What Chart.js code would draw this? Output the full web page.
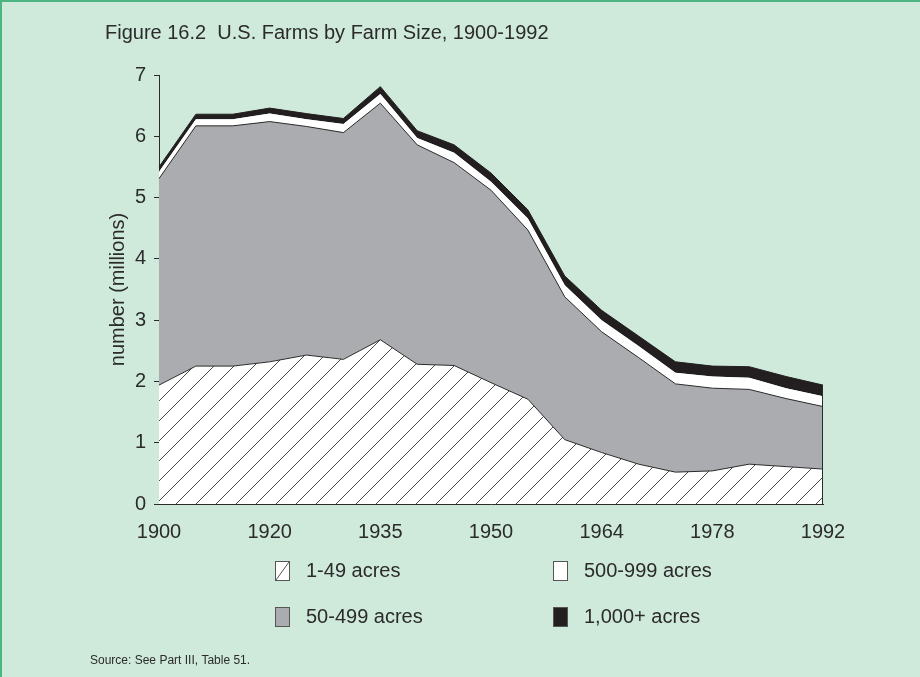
<!DOCTYPE html>
<html>
<head>
<meta charset="utf-8">
<script src="https://cdn.jsdelivr.net/npm/chart.js@4.4.1/dist/chart.umd.min.js"></script>
<style>
  body { margin: 0; background: #cfeadb; }
  #wrap { position: relative; width: 920px; height: 677px; overflow: hidden; }
  #frame { position: absolute; left: 0; top: 0; width: 918px; height: 675px;
           border-top: 2px solid #4cb582; border-left: 2px solid #4cb582; }
  canvas { position: absolute; left: 0; top: 0; }
</style>
</head>
<body>
<div id="wrap">
  <div id="frame"></div>
  <canvas id="farmChart" width="920" height="677"></canvas>
</div>
<script>
// census years (one extra point between 1910 and 1920, labels every 3rd)
const years = ['1900', '1910', '1915', '1920', '1925', '1930', '1935', '1940', '1945', '1950',
               '1954', '1959', '1964', '1969', '1974', '1978', '1982', '1987', '1992'];
// millions of farms, by size
const acres1to49 = [1.94, 2.25, 2.25, 2.32, 2.43, 2.36, 2.68, 2.28, 2.26, 1.98,
                    1.71, 1.05, 0.84, 0.65, 0.52, 0.54, 0.65, 0.61, 0.57];
const acres50to499 = [3.37, 3.92, 3.92, 3.92, 3.73, 3.70, 3.86, 3.58, 3.31, 3.14,
                      2.76, 2.33, 1.97, 1.74, 1.44, 1.35, 1.22, 1.11, 1.02];
const acres500to999 = [0.11, 0.11, 0.11, 0.13, 0.12, 0.14, 0.15, 0.11, 0.16, 0.14,
                       0.19, 0.19, 0.19, 0.19, 0.18, 0.19, 0.19, 0.17, 0.17];
const acres1000plus = [0.08, 0.08, 0.08, 0.09, 0.09, 0.09, 0.12, 0.12, 0.13, 0.14,
                       0.14, 0.15, 0.16, 0.16, 0.18, 0.17, 0.18, 0.19, 0.18];
const yTicks = [0, 1, 2, 3, 4, 5, 6, 7];

const FONT = 'Arial, "Liberation Sans", Helvetica, sans-serif';
const INK = '#2b2b2b';

function makeHatch() {
    const c = document.createElement('canvas');
    c.width = 20; c.height = 20;
    const g = c.getContext('2d');
    g.fillStyle = '#ffffff';
    g.fillRect(0, 0, 20, 20);
    g.strokeStyle = '#4a4a4a';
    g.lineWidth = 1;
    g.beginPath();
    g.moveTo(-2, 22); g.lineTo(22, -2);
    g.stroke();
    return g.createPattern(c, 'repeat');
}

const ctx = document.getElementById('farmChart').getContext('2d');
const hatch = makeHatch();

// legend, title, source note and the right edge of the stacked area
const decorations = {
    id: 'decorations',
    afterDatasetsDraw(chart) {
        const c = chart.ctx;
        const x = chart.scales.x, y = chart.scales.y;
        const last = years.length - 1;
        let total = 0;
        chart.data.datasets.forEach(ds => { total += ds.data[last]; });
        c.save();
        c.strokeStyle = INK;
        c.lineWidth = 1;
        c.beginPath();
        c.moveTo(Math.round(x.getPixelForValue(last)) - 0.5, y.getPixelForValue(0));
        c.lineTo(Math.round(x.getPixelForValue(last)) - 0.5, y.getPixelForValue(total));
        c.stroke();
        c.restore();
    },
    afterDraw(chart) {
        const c = chart.ctx;
        c.save();
        c.fillStyle = INK;
        c.textBaseline = 'middle';
        c.font = '20px ' + FONT;
        c.fillText('Figure 16.2  U.S. Farms by Farm Size, 1900-1992', 105, 33);

        const spots = [[275, 571], [275, 617], [553, 571], [553, 617]];
        chart.data.datasets.forEach((ds, i) => {
            const [bx, by] = spots[i];
            const w = 15, h = 20;
            c.fillStyle = ds.legendFill;
            c.fillRect(bx, by - h / 2, w, h);
            if (ds.legendHatch) {
                c.strokeStyle = '#555555';
                c.beginPath();
                c.moveTo(bx + 1, by + h / 2 - 1);
                c.lineTo(bx + w - 1, by - h / 2 + 1);
                c.stroke();
            }
            c.strokeStyle = '#555555';
            c.lineWidth = 1;
            c.strokeRect(bx + 0.5, by - h / 2 + 0.5, w - 1, h - 1);
            c.fillStyle = INK;
            c.font = '20px ' + FONT;
            c.fillText(ds.label, bx + 31, by);
        });

        c.font = '12px ' + FONT;
        c.fillText('Source: See Part III, Table 51.', 90, 661);
        c.restore();
    }
};

new Chart(ctx, {
    type: 'line',
    data: {
        labels: years,
        datasets: [
            {
                label: '1-49 acres',
                data: acres1to49,
                fill: 'origin',
                backgroundColor: hatch,
                borderColor: INK,
                borderWidth: 1,
                legendFill: '#ffffff',
                legendHatch: true
            },
            {
                label: '50-499 acres',
                data: acres50to499,
                fill: '-1',
                backgroundColor: '#abacb0',
                borderColor: INK,
                borderWidth: 1,
                legendFill: '#abacb0'
            },
            {
                label: '500-999 acres',
                data: acres500to999,
                fill: '-1',
                backgroundColor: '#ffffff',
                borderColor: '#ffffff',
                borderWidth: 0,
                legendFill: '#ffffff'
            },
            {
                label: '1,000+ acres',
                data: acres1000plus,
                fill: '-1',
                backgroundColor: '#231f20',
                borderColor: '#231f20',
                borderWidth: 1,
                legendFill: '#231f20'
            }
        ]
    },
    options: {
        responsive: false,
        animation: false,
        devicePixelRatio: 1,
        elements: {
            point: { radius: 0 },
            line: { tension: 0 }
        },
        layout: { padding: { left: 100, right: 97, top: 75, bottom: 123 } },
        plugins: {
            legend: { display: false },
            tooltip: { enabled: false }
        },
        scales: {
            x: {
                grid: { display: false },
                border: { display: true, color: INK, width: 1 },
                ticks: {
                    autoSkip: false,
                    maxRotation: 0,
                    padding: 8,
                    color: INK,
                    font: { family: FONT, size: 20 },
                    callback: (v, i) => (i % 3 === 0 ? years[i] : '')
                },
                afterFit: s => { s.height = 50; }
            },
            y: {
                stacked: true,
                min: 0,
                max: 7,
                afterBuildTicks: s => { s.ticks = yTicks.map(v => ({ value: v })); },
                grid: { drawOnChartArea: false, drawTicks: true, tickLength: 5, color: INK },
                border: { display: true, color: INK, width: 1 },
                ticks: {
                    padding: 8,
                    color: INK,
                    font: { family: FONT, size: 20 }
                },
                title: {
                    display: true,
                    text: 'number (millions)',
                    color: INK,
                    font: { family: FONT, size: 20 },
                    padding: { top: 6, bottom: 0 }
                },
                afterFit: s => { s.width = 59; }
            }
        }
    },
    plugins: [decorations]
});
</script>
</body>
</html>
